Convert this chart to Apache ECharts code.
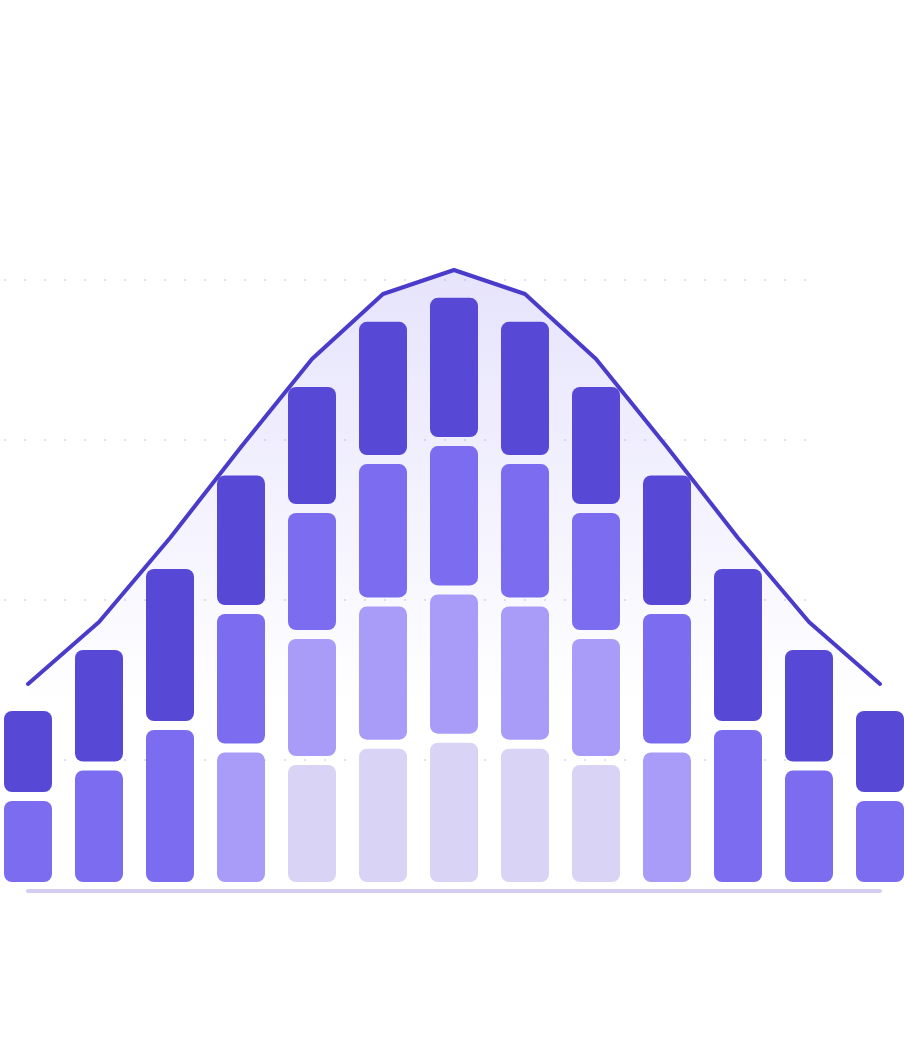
<!DOCTYPE html>
<html>
<head>
<meta charset="utf-8">
<script src="https://cdn.jsdelivr.net/npm/echarts@6/dist/echarts.min.js"></script>
<style>
html,body{margin:0;padding:0;background:#fff;}
#chart{width:908px;height:1050px;}
</style>
</head>
<body>
<div id="chart"></div>
<script>
// ---- data ----
const categories = ['1','2','3','4','5','6','7','8','9','10','11','12','13'];
// stacked segments, bottom to top (null = no segment)
const segment1 = [9.0, 12.05, 16.1, 13.85, 12.6, 14.23, 14.83, 14.23, 12.6, 13.85, 16.1, 12.05, 9.0];
const segment2 = [9.0, 12.05, 16.1, 13.85, 12.6, 14.23, 14.83, 14.23, 12.6, 13.85, 16.1, 12.05, 9.0];
const segment3 = [null, null, null, 13.85, 12.6, 14.23, 14.83, 14.23, 12.6, 13.85, null, null, null];
const segment4 = [null, null, null, null, 12.6, 14.23, 14.83, 14.23, 12.6, null, null, null, null];
const curve = [20.7, 26.9, 35.3, 44.4, 53.2, 59.7, 62.1, 59.7, 53.2, 44.4, 35.3, 26.9, 20.7];
const gridTicks = [0, 1, 2, 3];

// ---- build ----
const palette = ['#5748d6', '#7c6cf0', '#a99cf9', '#d9d3f6']; // from top level down
const segLevels = [segment1, segment2, segment3, segment4];
const barItems = [];
categories.forEach((c, i) => {
  const segs = segLevels.map(s => s[i]).filter(v => v != null);
  let acc = 0;
  segs.forEach((v, j) => {
    barItems.push([i, acc, acc + v, segs.length - 1 - j]);
    acc += v;
  });
});

const chart = echarts.init(document.getElementById('chart'));
chart.setOption({
  animation: false,
  backgroundColor: '#ffffff',
  grid: [
    { left: 28, right: 28, top: 191, bottom: 159 },
    { left: 4, right: 102, top: 280, bottom: 290 }
  ],
  xAxis: [
    {
      type: 'category', data: categories, boundaryGap: false, gridIndex: 0,
      axisLine: { show: true, lineStyle: { color: '#d5cdef', width: 4, cap: 'round' } },
      axisTick: { show: false }, axisLabel: { show: false }, splitLine: { show: false }
    },
    { type: 'value', gridIndex: 1, show: false, min: 0, max: 1, splitLine: { show: false } }
  ],
  yAxis: [
    {
      type: 'value', gridIndex: 0, min: 0, max: 70,
      axisLine: { show: false }, axisTick: { show: false }, axisLabel: { show: false },
      splitLine: { show: false }
    },
    {
      type: 'value', gridIndex: 1, min: gridTicks[0], max: gridTicks[gridTicks.length - 1], interval: 1,
      axisLine: { show: false }, axisTick: { show: false }, axisLabel: { show: false },
      splitLine: { show: true, lineStyle: { color: '#e3e0f5', width: 2, type: [2, 18] } }
    }
  ],
  series: [
    {
      type: 'line', xAxisIndex: 0, yAxisIndex: 0, data: curve, z: 1,
      symbol: 'none', lineStyle: { width: 0 },
      areaStyle: {
        color: new echarts.graphic.LinearGradient(0, 0, 0, 1, [
          { offset: 0, color: 'rgba(123,108,240,0.27)' },
          { offset: 0.7, color: 'rgba(123,108,240,0)' }
        ])
      },
      silent: true
    },
    {
      type: 'custom', xAxisIndex: 0, yAxisIndex: 0, z: 3,
      data: barItems,
      encode: { x: 0, y: [1, 2] },
      renderItem: function (params, api) {
        const idx = api.value(0);
        const lo = api.coord([idx, api.value(1)]);
        const hi = api.coord([idx, api.value(2)]);
        const gap = 9, w = 48;
        return {
          type: 'rect',
          shape: { x: lo[0] - w / 2, y: hi[1], width: w, height: lo[1] - hi[1] - gap, r: 8 },
          style: { fill: palette[api.value(3)] }
        };
      }
    },
    {
      type: 'line', xAxisIndex: 0, yAxisIndex: 0, data: curve, z: 5,
      symbol: 'none',
      lineStyle: { color: '#4a3bca', width: 4, cap: 'round', join: 'round' }
    }
  ]
});
</script>
</body>
</html>
